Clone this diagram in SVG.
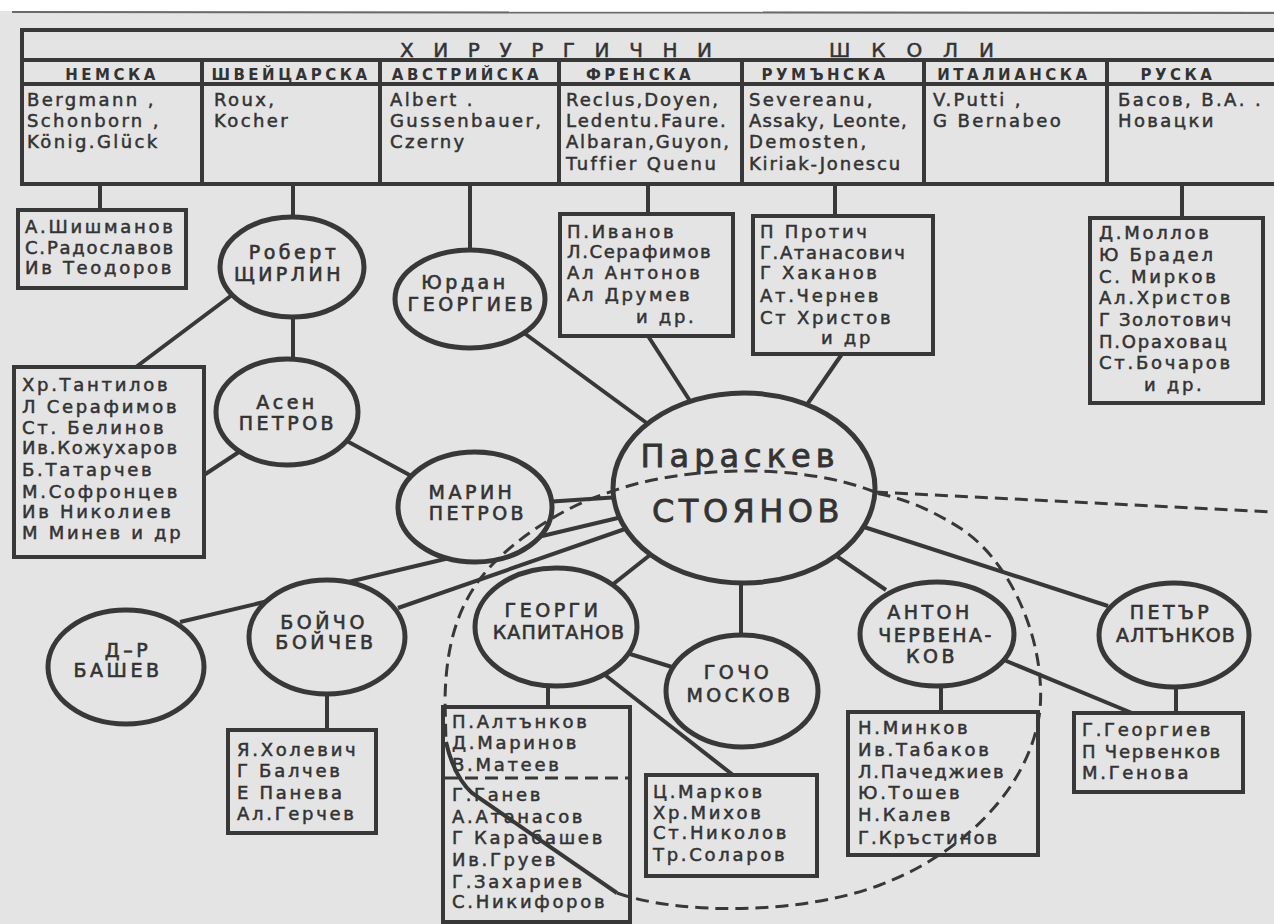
<svg xmlns="http://www.w3.org/2000/svg" width="1274" height="924" viewBox="0 0 1274 924">
<defs>
<style>
.box{fill:#e4e4e4;stroke:#383838;stroke-width:4}
.node{fill:#e4e4e4;stroke:#383838;stroke-width:5}
.ln{stroke:#383838;stroke-width:4;fill:none;stroke-linecap:butt}
.dash{stroke:#383838;stroke-width:3;fill:none;stroke-dasharray:13 7}
text{font-family:"DejaVu Sans","Liberation Sans",sans-serif;fill:#333333;stroke:#333333;stroke-width:0.5px}
.nm{font-size:18px;letter-spacing:2.7px}
.lat{font-size:18px;letter-spacing:2.4px}
.hd{font-size:15px;font-weight:bold;letter-spacing:3.5px;text-anchor:middle;stroke-width:0}
.lb{font-size:19px;letter-spacing:3.5px;text-anchor:middle;stroke-width:0.6px}
.big{font-size:32px;letter-spacing:5px;text-anchor:middle;stroke-width:0.8px}
.ttl{font-size:20px}
</style>
</defs>
<rect width="1274" height="924" fill="#e4e4e4"/>
<rect width="1274" height="11" fill="#ffffff"/>
<line x1="12" y1="12" x2="1274" y2="13" stroke="#6a6a6a" stroke-width="2"/>

<g id="header">
<rect x="22" y="30" width="1270" height="154" class="box"/>
<line x1="22" y1="60" x2="1274" y2="60" class="ln"/>
<line x1="22" y1="84" x2="1274" y2="84" class="ln" stroke-width="3"/>
<line x1="202" y1="60" x2="202" y2="184" class="ln"/>
<line x1="380" y1="60" x2="380" y2="184" class="ln"/>
<line x1="559" y1="60" x2="559" y2="184" class="ln"/>
<line x1="742" y1="60" x2="742" y2="184" class="ln"/>
<line x1="924" y1="60" x2="924" y2="184" class="ln"/>
<line x1="1107" y1="60" x2="1107" y2="184" class="ln"/>
<text class="ttl" x="400" y="57" textLength="312" lengthAdjust="spacing">Х И Р У Р Г И Ч Н И</text>
<text class="ttl" x="829" y="57" textLength="165" lengthAdjust="spacing">Ш К О Л И</text>
<text class="hd" x="112" y="80">НЕМСКА</text>
<text class="hd" x="291" y="80">ШВЕЙЦАРСКА</text>
<text class="hd" x="467" y="80">АВСТРИЙСКА</text>
<text class="hd" x="640" y="80">ФРЕНСКА</text>
<text class="hd" x="825" y="80">РУМЪНСКА</text>
<text class="hd" x="1014" y="80">ИТАЛИАНСКА</text>
<text class="hd" x="1178" y="80">РУСКА</text>
<text class="lat" x="27" y="106">Bergmann ,</text>
<text class="lat" x="27" y="127">Schonborn ,</text>
<text class="lat" x="27" y="148">König.Glück</text>
<text class="lat" x="214" y="106">Roux,</text>
<text class="lat" x="214" y="127">Kocher</text>
<text class="lat" x="390" y="106">Albert .</text>
<text class="lat" x="390" y="127">Gussenbauer,</text>
<text class="lat" x="390" y="148">Czerny</text>
<text class="lat" x="566" y="106" style="letter-spacing:2px">Reclus,Doyen,</text>
<text class="lat" x="566" y="127" style="letter-spacing:2px">Ledentu.Faure.</text>
<text class="lat" x="566" y="148" style="letter-spacing:1.8px">Albaran,Guyon,</text>
<text class="lat" x="566" y="170">Tuffier Quenu</text>
<text class="lat" x="749" y="106">Severeanu,</text>
<text class="lat" x="749" y="127" style="letter-spacing:1.2px">Assaky, Leonte,</text>
<text class="lat" x="749" y="148">Demosten,</text>
<text class="lat" x="749" y="170" style="letter-spacing:1.8px">Kiriak-Jonescu</text>
<text class="lat" x="933" y="106">V.Putti ,</text>
<text class="lat" x="933" y="127">G Bernabeo</text>
<text class="lat" x="1118" y="106">Басов, В.А. .</text>
<text class="lat" x="1118" y="127">Новацки</text>
</g>

<g id="connectors">
<line x1="100" y1="184" x2="100" y2="210" class="ln"/>
<line x1="293" y1="184" x2="293" y2="218" class="ln"/>
<line x1="470" y1="184" x2="470" y2="251" class="ln"/>
<line x1="648" y1="184" x2="648" y2="214" class="ln"/>
<line x1="835" y1="184" x2="835" y2="216" class="ln"/>
<line x1="1182" y1="184" x2="1182" y2="218" class="ln"/>
<line x1="293" y1="310" x2="293" y2="362" class="ln"/>
<line x1="236" y1="292" x2="136" y2="367" class="ln"/>
<line x1="245" y1="448" x2="204" y2="475" class="ln"/>
<line x1="345" y1="440" x2="415" y2="478" class="ln"/>
<line x1="520" y1="330" x2="648" y2="424" class="ln"/>
<line x1="648" y1="336" x2="692" y2="404" class="ln"/>
<line x1="842" y1="354" x2="806" y2="406" class="ln"/>
<line x1="545" y1="502" x2="620" y2="497" class="ln" stroke-width="5"/>
<line x1="180" y1="622" x2="622" y2="517" class="ln" stroke-width="5"/>
<line x1="398" y1="608" x2="625" y2="529" class="ln" stroke-width="5"/>
<line x1="327" y1="690" x2="327" y2="730" class="ln"/>
<line x1="650" y1="555" x2="612" y2="585" class="ln"/>
<line x1="741" y1="580" x2="741" y2="638" class="ln"/>
<line x1="630" y1="654" x2="672" y2="667" class="ln" stroke-width="6"/>
<line x1="548" y1="684" x2="548" y2="707" class="ln"/>
<line x1="605" y1="675" x2="733" y2="775" class="ln"/>
<line x1="835" y1="555" x2="886" y2="590" class="ln"/>
<line x1="864" y1="527" x2="1108" y2="606" class="ln"/>
<line x1="941" y1="684" x2="941" y2="712" class="ln"/>
<line x1="1004" y1="660" x2="1132" y2="713" class="ln"/>
<line x1="1176" y1="685" x2="1176" y2="713" class="ln"/>
</g>

<g id="nodes">
<g id="n-shishmanov">
<rect x="18" y="210" width="168" height="78" class="box"/>
<text class="nm" x="25" y="233">А.Шишманов</text>
<text class="nm" x="25" y="254" style="letter-spacing:1.8px">С.Радославов</text>
<text class="nm" x="25" y="274">Ив Теодоров</text>
</g>
<g id="n-shirlin">
<ellipse cx="292" cy="267" rx="72" ry="50" class="node"/>
<text class="lb" x="294" y="259">Роберт</text>
<text class="lb" x="289" y="281">ЩИРЛИН</text>
</g>
<g id="n-yurdan">
<ellipse cx="470" cy="299" rx="75" ry="49" class="node"/>
<text class="lb" x="465" y="289">Юрдан</text>
<text class="lb" x="472" y="311">ГЕОРГИЕВ</text>
</g>
<g id="n-ivanov">
<rect x="560" y="214" width="173" height="122" class="box"/>
<text class="nm" x="567" y="238">П.Иванов</text>
<text class="nm" x="567" y="258" style="letter-spacing:1.6px">Л.Серафимов</text>
<text class="nm" x="567" y="279">Ал Антонов</text>
<text class="nm" x="567" y="301">Ал Друмев</text>
<text class="nm" x="636" y="323">и др.</text>
</g>
<g id="n-protich">
<rect x="753" y="216" width="180" height="138" class="box"/>
<text class="nm" x="760" y="238">П Протич</text>
<text class="nm" x="760" y="259" style="letter-spacing:1.6px">Г.Атанасович</text>
<text class="nm" x="760" y="279">Г Хаканов</text>
<text class="nm" x="760" y="302">Ат.Чернев</text>
<text class="nm" x="760" y="324">Ст Христов</text>
<text class="nm" x="821" y="344">и др</text>
</g>
<g id="n-mollov">
<rect x="1090" y="218" width="173" height="185" class="box"/>
<text class="nm" x="1099" y="239">Д.Моллов</text>
<text class="nm" x="1099" y="261">Ю Брадел</text>
<text class="nm" x="1099" y="283">С. Мирков</text>
<text class="nm" x="1099" y="304">Ал.Христов</text>
<text class="nm" x="1099" y="326" style="letter-spacing:1.6px">Г Золотович</text>
<text class="nm" x="1099" y="348" style="letter-spacing:1.8px">П.Ораховац</text>
<text class="nm" x="1099" y="369">Ст.Бочаров</text>
<text class="nm" x="1144" y="391">и др.</text>
</g>
<g id="n-tantilov">
<rect x="14" y="367" width="190" height="190" class="box"/>
<text class="nm" x="22" y="391">Хр.Тантилов</text>
<text class="nm" x="22" y="413">Л Серафимов</text>
<text class="nm" x="22" y="434">Ст. Белинов</text>
<text class="nm" x="22" y="454" style="letter-spacing:1.8px">Ив.Кожухаров</text>
<text class="nm" x="22" y="476">Б.Татарчев</text>
<text class="nm" x="22" y="498">М.Софронцев</text>
<text class="nm" x="22" y="518">Ив Николиев</text>
<text class="nm" x="22" y="539">М Минев и др</text>
</g>
<g id="n-asen">
<ellipse cx="287" cy="412" rx="71" ry="53" class="node"/>
<text class="lb" x="287" y="409">Асен</text>
<text class="lb" x="288" y="430">ПЕТРОВ</text>
</g>
<g id="n-marin">
<ellipse cx="475" cy="507" rx="77" ry="55" class="node"/>
<text class="lb" x="472" y="499">МАРИН</text>
<text class="lb" x="478" y="520">ПЕТРОВ</text>
</g>
<g id="n-stoyanov">
<ellipse cx="744" cy="488" rx="131" ry="95" class="node"/>
<text class="big" x="740" y="467">Параскев</text>
<text class="big" x="748" y="522" style="letter-spacing:4.5px">СТОЯНОВ</text>
</g>
<g id="n-bashev">
<ellipse cx="126" cy="667" rx="78" ry="57" class="node"/>
<text class="lb" x="128" y="657">Д–Р</text>
<text class="lb" x="118" y="677">БАШЕВ</text>
</g>
<g id="n-boychev">
<ellipse cx="327" cy="637" rx="78" ry="57" class="node"/>
<text class="lb" x="324" y="629">БОЙЧО</text>
<text class="lb" x="326" y="649">БОЙЧЕВ</text>
</g>
<g id="n-kapitanov">
<ellipse cx="556" cy="627" rx="81" ry="59" class="node"/>
<text class="lb" x="553" y="617">ГЕОРГИ</text>
<text class="lb" x="559" y="639" style="letter-spacing:1.2px">КАПИТАНОВ</text>
</g>
<g id="n-moskov">
<ellipse cx="742" cy="691" rx="76" ry="56" class="node"/>
<text class="lb" x="738" y="679">ГОЧО</text>
<text class="lb" x="740" y="702">МОСКОВ</text>
</g>
<g id="n-chervenakov">
<ellipse cx="937" cy="634" rx="77" ry="52" class="node"/>
<text class="lb" x="930" y="619">АНТОН</text>
<text class="lb" x="936" y="642" style="letter-spacing:2.5px">ЧЕРВЕНА-</text>
<text class="lb" x="932" y="663">КОВ</text>
</g>
<g id="n-altankov">
<ellipse cx="1174" cy="635" rx="75" ry="52" class="node"/>
<text class="lb" x="1171" y="619">ПЕТЪР</text>
<text class="lb" x="1176" y="642" style="letter-spacing:1.2px">АЛТЪНКОВ</text>
</g>
<g id="n-holevich">
<rect x="228" y="730" width="148" height="103" class="box"/>
<text class="nm" x="237" y="756">Я.Холевич</text>
<text class="nm" x="237" y="777">Г Балчев</text>
<text class="nm" x="237" y="799">Е Панева</text>
<text class="nm" x="237" y="820">Ал.Герчев</text>
</g>
<g id="n-p-altankov">
<rect x="443" y="707" width="187" height="215" class="box"/>
<line x1="445" y1="778" x2="628" y2="778" class="dash" stroke-dasharray="6 3"/>
<text class="nm" x="452" y="728">П.Алтънков</text>
<text class="nm" x="452" y="749">Д.Маринов</text>
<text class="nm" x="452" y="771">В.Матеев</text>
<text class="nm" x="452" y="801">Г.Ганев</text>
<text class="nm" x="452" y="823">А.Атанасов</text>
<text class="nm" x="452" y="844">Г Карабашев</text>
<text class="nm" x="452" y="866">Ив.Груев</text>
<text class="nm" x="452" y="888">Г.Захариев</text>
<text class="nm" x="452" y="908">С.Никифоров</text>
</g>
<g id="n-markov">
<rect x="646" y="775" width="171" height="101" class="box"/>
<text class="nm" x="653" y="798">Ц.Марков</text>
<text class="nm" x="653" y="819">Хр.Михов</text>
<text class="nm" x="653" y="839">Ст.Николов</text>
<text class="nm" x="653" y="861">Тр.Соларов</text>
</g>
<g id="n-minkov">
<rect x="848" y="712" width="190" height="143" class="box"/>
<text class="nm" x="858" y="734">Н.Минков</text>
<text class="nm" x="858" y="756">Ив.Табаков</text>
<text class="nm" x="858" y="778" style="letter-spacing:1.8px">Л.Пачеджиев</text>
<text class="nm" x="858" y="799">Ю.Тошев</text>
<text class="nm" x="858" y="821">Н.Калев</text>
<text class="nm" x="858" y="844" style="letter-spacing:2px">Г.Кръстинов</text>
</g>
<g id="n-georgiev">
<rect x="1074" y="713" width="169" height="79" class="box"/>
<text class="nm" x="1082" y="736">Г.Георгиев</text>
<text class="nm" x="1082" y="758" style="letter-spacing:1.8px">П Червенков</text>
<text class="nm" x="1082" y="779">М.Генова</text>
</g>
</g>

<g id="boundaries">
<path class="dash" d="M875 492 L1274 512"/>
<path class="dash" d="M875 492 C800 462 680 466 610 492 C560 508 515 540 490 567 C460 600 446 640 445 700 L446 742"/>
<path class="ln" stroke-width="2.5" d="M446 742 C451 764 460 782 472 793 L617 893"/>
<path class="dash" d="M617 893 C680 915 800 915 880 885 C960 855 1030 790 1040 710 C1046 640 1010 560 960 528 C935 512 905 498 875 493"/>
</g>
</svg>
